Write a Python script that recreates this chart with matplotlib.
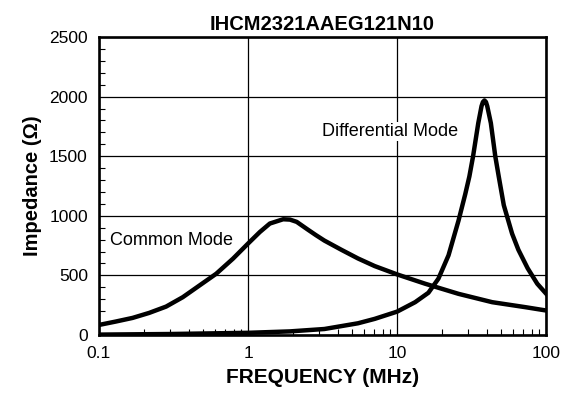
import matplotlib
matplotlib.use('Agg')
import matplotlib.pyplot as plt
from matplotlib.ticker import FixedLocator, NullFormatter

plt.rcParams['font.family'] = ['Liberation Sans', 'DejaVu Sans']

# Datos (MHz, Ohm)
freq_cm = [0.1, 0.129, 0.168, 0.217, 0.282, 0.365, 0.472, 0.612, 0.792, 1.0,
           1.2, 1.4, 1.72, 1.91, 2.12, 2.51, 2.85, 3.25, 4.22, 5.46, 7.07,
           10, 15.4, 25.8, 43.4, 72.6, 100]
z_cm = [84, 112, 143, 185, 238, 317, 415, 514, 640, 767,
        864, 935, 971, 968, 949, 885, 838, 792, 715, 642, 578,
        508, 430, 345, 275, 233, 205]

freq_dm = [0.1, 0.3, 1.0, 1.91, 3.25, 5.46, 7.07, 10, 13.2, 16.2, 18.9, 22.1,
           25.8, 28.6, 30.5, 32.3, 35.0, 36.8, 37.6, 38.5, 39.4, 40.2, 42.5,
           45.5, 48.0, 51.9, 59.0, 65.0, 75.0, 87.0, 100]
z_dm = [3, 8, 18, 30, 50, 98, 135, 196, 275, 354, 472, 668,
        960, 1180, 1330, 1500, 1778, 1920, 1955, 1968, 1955, 1920, 1778,
        1500, 1330, 1089, 850, 715, 560, 430, 345]

x_ticks = [0.1, 1, 10, 100]
x_labels = ['0.1', '1', '10', '100']
y_ticks = [0, 500, 1000, 1500, 2000, 2500]

fig = plt.figure(figsize=(5.72, 4.07), dpi=100)
ax = fig.add_axes([0.173, 0.177, 0.782, 0.732])

ax.plot(freq_cm, z_cm, color='black', lw=3.2, solid_joinstyle='round')
ax.plot(freq_dm, z_dm, color='black', lw=3.2, solid_joinstyle='round')

ax.set_xscale('log')
ax.set_xlim(0.1, 100)
ax.set_ylim(0, 2500)
ax.set_xticks(x_ticks)
ax.set_xticklabels(x_labels)
ax.set_yticks(y_ticks)
minor_x = [m * d for d in [0.1, 1, 10] for m in range(2, 10)]
ax.xaxis.set_minor_locator(FixedLocator(minor_x))
ax.xaxis.set_minor_formatter(NullFormatter())
ax.yaxis.set_minor_locator(FixedLocator([v for v in range(0, 2500, 100) if v % 500]))

ax.tick_params(which='major', length=0, labelsize=12.5, pad=8)
ax.tick_params(which='minor', direction='in', length=4, width=0.8)
ax.grid(True, which='major', color='black', lw=0.9)

for s in ax.spines.values():
    s.set_linewidth(1.9)

ax.set_title('IHCM2321AAEG121N10', fontsize=14.5, fontweight='bold', pad=5)
ax.set_xlabel('FREQUENCY (MHz)', fontsize=15, fontweight='bold', labelpad=5)
ax.set_ylabel('Impedance (Ω)', fontsize=14.5, fontweight='bold', labelpad=5)

ax.text(0.1185, 794, 'Common Mode', fontsize=13, va='center', ha='left',
        bbox=dict(facecolor='white', edgecolor='none', pad=0.5))
ax.text(3.15, 1707, 'Differential Mode', fontsize=13, va='center', ha='left',
        bbox=dict(facecolor='white', edgecolor='none', pad=0.5))

fig.savefig('out.png', dpi=100)
